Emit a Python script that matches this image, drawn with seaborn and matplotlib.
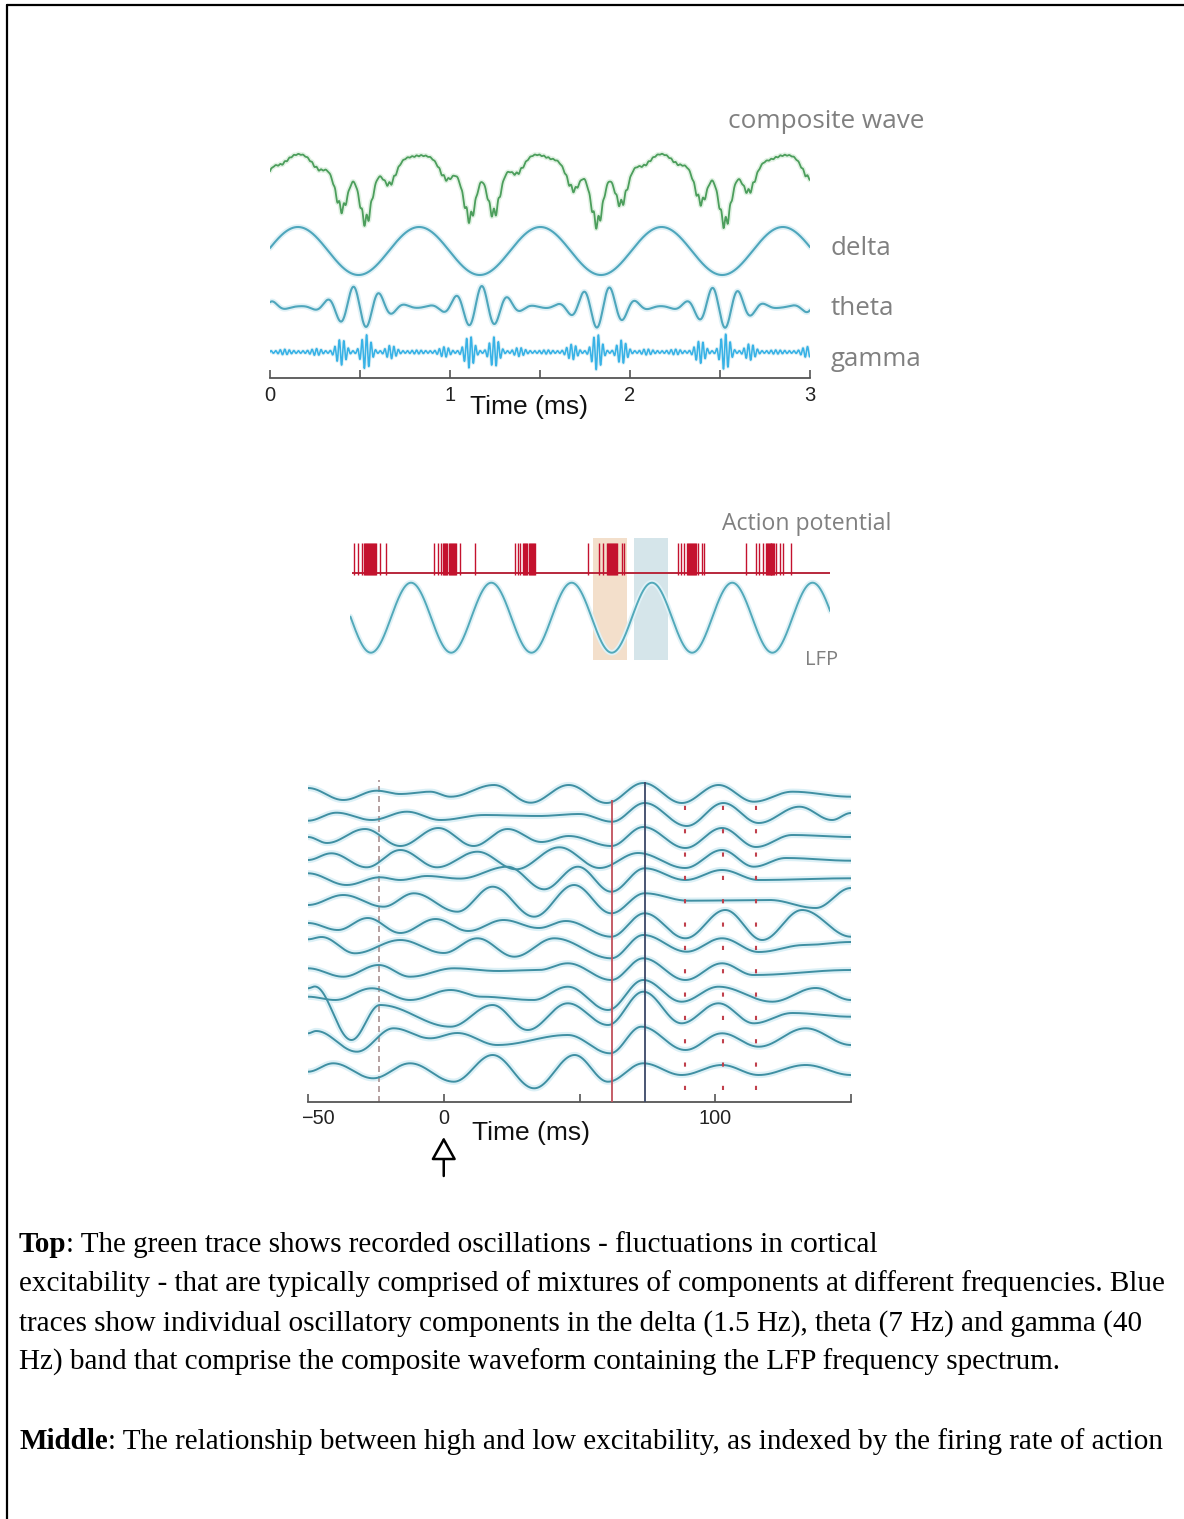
import numpy as np
import matplotlib
matplotlib.use("Agg")
import matplotlib.pyplot as plt
import matplotlib.transforms as mtransforms
import seaborn as sns
from matplotlib.patches import Rectangle
from matplotlib.lines import Line2D

W, H = 1184, 1519
sns.set_theme(style="white")
plt.rcParams['font.family'] = ['Liberation Sans', 'DejaVu Sans']

# ---------------- data: top panel (oscillatory components) ----------------
delta_period = 0.6735
delta_first_peak = 0.155
delta_amp = 24.0
theta_period = delta_period / 4.67          # 7 Hz relative to 1.5 Hz
theta_amp = 21.0
theta_burst_centers = [-0.18, 0.495, 1.17, 1.84, 2.51, 3.18]
theta_burst_troughs = [-0.054, 0.535, 1.249, 1.815, 2.529, 2.975]
burst_width = 0.12
gamma_period = delta_period / 26.67         # 40 Hz relative to 1.5 Hz
gamma_amp = 17.0
gamma_floor = 1.2
composite_gamma_share = 0.35
top_ticks = [0, 0.5, 1, 1.5, 2, 2.5, 3]
top_ticklabels = ['0', '', '1', '', '2', '', '3']
component_names = ['composite wave', 'delta', 'theta', 'gamma']

# ---------------- data: middle panel (spikes and LFP) ----------------
lfp_first_trough = 0.255
lfp_amp = 35.0
spike_times = [
    0.047, 0.093, 0.139, 0.172, 0.185, 0.198, 0.21, 0.222, 0.234, 0.246, 0.258,
    0.27, 0.282, 0.295, 0.31, 0.325, 0.371, 0.44,
    1.042, 1.088, 1.134, 1.157, 1.17, 1.183, 1.196, 1.209, 1.222, 1.235, 1.248,
    1.261, 1.274, 1.288, 1.303, 1.32, 1.366, 1.551,
    2.051, 2.084, 2.116, 2.153, 2.166, 2.179, 2.192, 2.205, 2.218, 2.231, 2.244,
    2.257, 2.27, 2.285, 2.301,
    2.963, 3.10, 3.148, 3.194, 3.206, 3.218, 3.23, 3.242, 3.254, 3.266, 3.278,
    3.29, 3.305, 3.32, 3.38, 3.403,
    4.074, 4.12, 4.153, 4.19, 4.203, 4.216, 4.229, 4.242, 4.255, 4.268, 4.281,
    4.294, 4.31, 4.329, 4.375, 4.398,
    4.93, 5.047, 5.093, 5.138, 5.172, 5.184, 5.196, 5.208, 5.22, 5.232, 5.244,
    5.256, 5.268, 5.28, 5.3, 5.347, 5.393, 5.487,
]
high_window = (3.02, 3.445)
low_window = (3.53, 3.955)

# ---------------- data: bottom panel (single-trial LFP, extrema read) ----------------
trial_times = [
    [-50, -37, -24.7, -16, -5, 2.5, 18.5, 32, 46, 60, 73.5, 87.7, 101.2, 114.2, 128.4, 150],
    [-50, -39.5, -26.5, -13.6, -1.2, 15, 35, 50, 62, 74, 89.5, 103, 116, 131, 143, 150],
    [-50, -43, -29, -16, -2, 11, 23.5, 36, 46, 61.7, 73.5, 89, 102.5, 115, 128.4, 150],
    [-50, -41.4, -28.4, -16, -2.5, 12.4, 26.6, 42.6, 57.4, 71.6, 88.9, 102.5, 114.2, 126, 150],
    [-50, -35.8, -23.5, -16, -6.2, 6, 23.5, 37, 49.4, 61.7, 74, 89, 102.5, 116, 150],
    [-50, -37, -22.2, -11, 5, 18, 33.3, 48, 61.7, 74, 90, 120, 137, 150],
    [-50, -39, -28, -16, -3, 9, 22, 35, 45, 61.7, 74, 89, 103.7, 117.3, 132, 150],
    [-50, -45, -32.7, -16, 0, 12.4, 26, 40.7, 61.7, 73.5, 89.5, 102.5, 116, 133, 150],
    [-50, -37, -24, -12.4, 3.7, 20, 35, 45.7, 61.7, 73.5, 89, 102.5, 114, 150],
    [-50, -40, -26.5, -12.4, 2.5, 14, 33, 45.7, 60.5, 73.5, 87.6, 101.2, 121, 137, 150],
    [-50, -47.5, -34, -23.5, 2.5, 18, 30.9, 45.7, 60.5, 73.5, 87.6, 101.2, 114.2, 128.4, 150],
    [-50, -47, -32, -18.5, -5, 5, 19.7, 45.7, 61.3, 72.8, 89, 102.5, 116, 133.3, 150],
    [-50, -40.7, -26, -12.4, 3.7, 18, 33.3, 48.2, 60.5, 73.5, 87.6, 102.5, 116, 133.3, 150],
]
trial_values = [
    [7, -5, 4.3, 1, 3.3, -1.7, 10, -7.7, 10, -8, 12, -8, 10, -6.7, 3.3, -1.7],
    [-2.8, 5.2, -2.1, 6.2, -2.1, 2.9, 1.9, 3.9, -3.8, 14.9, -8.1, 14.9, -5.1, 11.2, -2.1, 4.9],
    [3.8, -2.2, 11.8, -5.2, 12.8, -5.2, 11.8, -1.2, 4.8, -5.2, 13.8, -7.2, 12.8, -6.2, 5.8, 3.8],
    [3.7, 10.4, -3.6, 13.7, -3.6, 12, -5.6, 16.4, -4.3, 10.7, -4.3, 13.7, -3, 5.7, 3],
    [13.3, 1.6, 9.3, 6.6, 10.6, 8, 19.9, -2.7, 19.9, -5.1, 18.3, 6.6, 16.6, 6.6, 8.3],
    [4.5, 14.5, 2.8, 16.2, -2.2, 22.8, -7.2, 24.5, -3.8, 16.2, 8.8, 9.5, 1.5, 21.5],
    [9.4, 2.4, 14.4, -0.6, 13.4, 1.4, 12.4, 4.4, 11.4, -4.3, 19.1, -5.9, 22.4, -7.6, 22.4, -4.3],
    [16, 18.3, 2, 15.3, 2.3, 17, -1.4, 17, -3, 20.3, 3.6, 17, 3.3, 10.3, 13.3],
    [9.9, 1.5, 13.2, 1.5, 9.9, 7.2, 8.2, 14.9, -1.8, 19.9, -1.8, 14.9, 3.2, 8.2],
    [4.4, 1.1, 12.8, 1.1, 11.1, 4.4, 1.1, 14.4, -8.9, 21.1, -0.6, 14.4, -0.6, 13.1, 1.1],
    [35.7, 37.5, -16, 19, -2.7, 19, -6, 20.7, -1, 32.3, 0.7, 20.7, 0.7, 11, 7.3],
    [13.6, 15.9, -4.8, 18.6, 8.6, 13.9, 1.9, 11.9, -6.4, 20.2, -3.1, 13.6, 0.2, 18.6, 1.9],
    [-1.9, 6.5, -8.5, 6.5, -11.9, 14.8, -18.5, 14.8, -11.9, 6.5, -5.2, 4.8, -5.2, 4.8, -5.2],
]
prestim_marker = -24
red_marker = 62
blue_marker = 74
dotted_markers = [89, 103, 115]
bottom_ticks = [-50, 0, 50, 100, 150]
bottom_ticklabels = ['\u221250', '0', '', '100', '']

caption_lines = [
    ("Top", ": The green trace shows recorded oscillations - fluctuations in cortical"),
    ("", "excitability - that are typically comprised of mixtures of components at different frequencies. Blue"),
    ("", "traces show individual oscillatory components in the delta (1.5 Hz), theta (7 Hz) and gamma (40"),
    ("", "Hz) band that comprise the composite waveform containing the LFP frequency spectrum."),
    ("Middle", ": The relationship between high and low excitability, as indexed by the firing rate of action"),
]

# ---------------- figure ----------------
fig = plt.figure(figsize=(W / 100, H / 100), dpi=100)
fig.patch.set_facecolor('white')


def px_axes(x0, x1, ytop, ybot):
    return fig.add_axes([x0 / W, 1 - ybot / H, (x1 - x0) / W, (ybot - ytop) / H])


def ftext(x, y, s, **kw):
    return fig.text(x / W, 1 - y / H, s, **kw)


def line(ax, x, y, color, lw, halo=None, hw=4.0, z=3):
    if halo is not None:
        sns.lineplot(x=x, y=y, ax=ax, color=halo, linewidth=hw, sort=False,
                     estimator=None, legend=False, zorder=z - 1)
    sns.lineplot(x=x, y=y, ax=ax, color=color, linewidth=lw, sort=False,
                 estimator=None, legend=False, zorder=z)


def through_extrema(tk, vk, t):
    tk = np.asarray(tk, float)
    vk = np.asarray(vk, float)
    idx = np.clip(np.searchsorted(tk, t, side='right') - 1, 0, len(tk) - 2)
    s = np.clip((t - tk[idx]) / (tk[idx + 1] - tk[idx]), 0, 1)
    return vk[idx] + (vk[idx + 1] - vk[idx]) * (1 - np.cos(np.pi * s)) / 2


# frame lines of the document box
fig.add_artist(Line2D([7 / W, 7 / W], [0, 1 - 5 / H], transform=fig.transFigure,
                      color='black', lw=1.6))
fig.add_artist(Line2D([7 / W, 1], [1 - 5 / H, 1 - 5 / H], transform=fig.transFigure,
                      color='black', lw=1.6))

# ---------------- top panel ----------------
ax1 = px_axes(270, 810, 140, 378)
t = np.linspace(0, 3, 7000)
delta = delta_amp * np.cos(2 * np.pi * (t - delta_first_peak) / delta_period)
theta = np.zeros_like(t)
gamma_env = np.zeros_like(t)
for c, tr in zip(theta_burst_centers, theta_burst_troughs):
    env = np.exp(-(t - c) ** 2 / (2 * burst_width ** 2))
    ph = np.cos(2 * np.pi * (t - tr) / theta_period)
    theta += -theta_amp * env * ph
    gamma_env += env * ((1 + ph) / 2) ** 1.5
gamma = (gamma_floor + gamma_amp * gamma_env) * np.sin(2 * np.pi * t / gamma_period)
composite = delta + theta + composite_gamma_share * gamma

green = '#4c9e5c'
blue = '#4ea6bc'
line(ax1, t, -179 + composite, green, 1.3, halo='#e2f2e4', hw=3.5)
line(ax1, t, -251 + delta, blue, 1.5, halo='#e0f1f6', hw=4)
line(ax1, t, -307 + theta, blue, 1.5, halo='#e0f1f6', hw=4)
line(ax1, t, -352 + gamma, '#38b2e6', 1.15, halo='#e0f1f6', hw=2.5)
ax1.set_xlim(0, 3)
ax1.set_ylim(-378, -140)
for side in ['top', 'right', 'left']:
    ax1.spines[side].set_visible(False)
ax1.spines['bottom'].set_color('#555555')
ax1.spines['bottom'].set_linewidth(1.3)
ax1.set_yticks([])
ax1.set_xticks(top_ticks)
ax1.set_xticklabels(top_ticklabels)
ax1.tick_params(axis='x', direction='in', length=6, width=1.2, color='#555555',
                labelsize=14.5, pad=6, labelcolor='#222222', bottom=True)
ax1.set_facecolor('none')
ax1.set_xlabel('')
ax1.set_ylabel('')

label_kw = dict(family=['Open Sans', 'DejaVu Sans'], color='#808080', va='baseline', ha='left')
ftext(728, 128, component_names[0], fontsize=18.8, **label_kw)
ftext(831, 255, component_names[1], fontsize=18.6, **label_kw)
ftext(831, 315, component_names[2], fontsize=18.6, **label_kw)
ftext(831, 366, component_names[3], fontsize=18.6, **label_kw)
ftext(529, 407, 'Time (ms)', fontsize=19, color='#111111', ha='center', va='center')

# ---------------- middle panel ----------------
ax2 = px_axes(350.4, 830.2, 530, 670)
tm = np.linspace(0, 5.975, 2000)
lfp = -617.7 - lfp_amp * np.cos(2 * np.pi * (tm - lfp_first_trough))
ax2.add_patch(Rectangle((high_window[0], -660), high_window[1] - high_window[0], 122,
                        facecolor='#f3dfcb', edgecolor='none', zorder=0))
ax2.add_patch(Rectangle((low_window[0], -660), low_window[1] - low_window[0], 122,
                        facecolor='#d5e5ea', edgecolor='none', zorder=0))
line(ax2, tm, lfp, '#52a9ba', 1.4, halo='#e0f1f6', hw=4)
ax2.hlines(-573.3, 0.02, 5.975, color='#b8283c', lw=1.4, zorder=4)
ax2.vlines(spike_times, -574.5, -543.3, color='#c4122e', lw=1.0, zorder=5)
ax2.set_xlim(0, 5.975)
ax2.set_ylim(-670, -530)
ax2.axis('off')
ftext(722, 530, 'Action potential', fontsize=16.6, **label_kw)
ftext(805, 665, 'LFP', fontsize=14.5, **label_kw)

# ---------------- bottom panel ----------------
ax3 = px_axes(308, 851, 770, 1102)
tb = np.linspace(-50, 150, 2500)
for i, (tk, vk) in enumerate(zip(trial_times, trial_values)):
    base = -795 - 22.9 * i
    line(ax3, tb, base + through_extrema(tk, vk, tb), '#3f8fa2', 1.4,
         halo='#dcf0f6', hw=4.5)
ax3.vlines(prestim_marker, -1102, -780, color='#a89090', lw=1.2,
           linestyles=[(0, (3.6, 2.4))], zorder=2)
ax3.vlines(red_marker, -1102, -800, color='#c0505c', lw=1.3, zorder=6)
ax3.vlines(blue_marker, -1102, -782, color='#3c4868', lw=1.3, zorder=6)
ax3.vlines(dotted_markers, -1090, -800, color='#c0404c', lw=1.5,
           linestyles=[(0, (2, 9.2))], zorder=6)
ax3.set_xlim(-50, 150)
ax3.set_ylim(-1102, -770)
for side in ['top', 'right', 'left']:
    ax3.spines[side].set_visible(False)
ax3.spines['bottom'].set_color('#555555')
ax3.spines['bottom'].set_linewidth(1.3)
ax3.set_yticks([])
ax3.set_xticks(bottom_ticks)
ax3.set_xticklabels(bottom_ticklabels)
ax3.tick_params(axis='x', direction='in', length=6, width=1.2, color='#555555',
                labelsize=14.3, pad=5, labelcolor='#222222', bottom=True)
first_lbl = ax3.get_xticklabels()[0]
first_lbl.set_transform(first_lbl.get_transform() +
                        mtransforms.ScaledTranslation(10 / 100, 0, fig.dpi_scale_trans))
ax3.set_facecolor('none')
ax3.set_xlabel('')
ax3.set_ylabel('')
ax3.annotate('', xy=(0, -1137), xytext=(0, -1176),
             arrowprops=dict(arrowstyle='-|>,head_length=1.4,head_width=0.78',
                             mutation_scale=10, facecolor='white', edgecolor='black',
                             lw=1.8, shrinkA=0, shrinkB=0),
             annotation_clip=False)
ftext(531, 1133, 'Time (ms)', fontsize=19, color='#111111', ha='center', va='center')

# ---------------- caption ----------------
renderer = fig.canvas.get_renderer()
cap_kw = dict(family=['Liberation Serif', 'DejaVu Serif'], fontsize=20.95, color='black',
              va='baseline', ha='left')
baselines = [1252, 1291, 1331, 1370, 1449]
for (bold, rest), yb in zip(caption_lines, baselines):
    x = 19
    if bold:
        tb_ = ftext(x, yb, bold, fontweight='bold', **cap_kw)
        bb = tb_.get_window_extent(renderer=renderer)
        x = bb.x1
    ftext(x, yb, rest, **cap_kw)

fig.savefig('out.png', dpi=100, facecolor='white')
